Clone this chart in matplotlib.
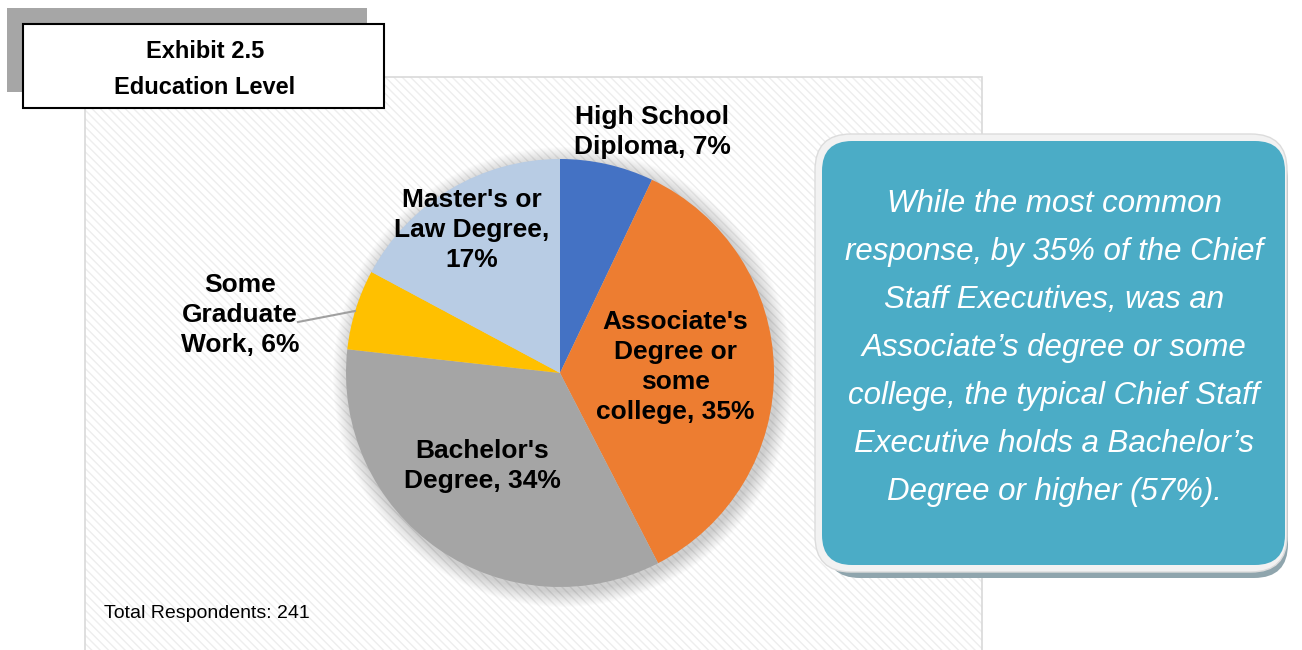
import matplotlib.pyplot as plt
from matplotlib.patches import Rectangle, FancyBboxPatch, Circle

plt.rcParams['font.family'] = ['Liberation Sans', 'DejaVu Sans']
plt.rcParams['hatch.linewidth'] = 1.0

# Education level shares (percent of respondents)
categories = ["High School\nDiploma", "Associate's\nDegree or\nsome\ncollege",
              "Bachelor's\nDegree", "Some\nGraduate\nWork", "Master's or\nLaw Degree,\n"]
shares = [7, 35, 34, 6, 17]
colors = ['#4472C4', '#ED7D31', '#A5A5A5', '#FFC000', '#B8CCE4']
total_respondents = 241
title_lines = ["Exhibit 2.5", "Education Level"]
callout = ("While the most common\nresponse, by 35% of the Chief\n"
           "Staff Executives, was an\nAssociate\u2019s degree or some\n"
           "college, the typical Chief Staff\nExecutive holds a Bachelor\u2019s\n"
           "Degree or higher (57%).")

W, H = 1302, 650
fig = plt.figure(figsize=(W / 100, H / 100), dpi=100)
ax = fig.add_axes([0, 0, 1, 1])


def Y(py):
    # pixel row (from top) -> data y
    return H - py


# hatched chart panel
panel = Rectangle((85, Y(660)), 897, 583, facecolor='white', edgecolor='#eeeeee',
                  hatch='\\\\\\\\', linewidth=0, zorder=0)
ax.add_patch(panel)
ax.add_patch(Rectangle((85, Y(660)), 897, 583, fill=False, edgecolor='#d9d9d9',
                       linewidth=1.2, zorder=0.5))

# title box with grey offset block
ax.add_patch(Rectangle((7, Y(92)), 360, 84, facecolor='#a6a6a6', edgecolor='none', zorder=1))
ax.add_patch(Rectangle((23, Y(108)), 361, 84, facecolor='white', edgecolor='black',
                       linewidth=1.5, zorder=2))
ax.text(205, Y(51), title_lines[0], ha='center', va='center', fontsize=17,
        fontweight='bold', zorder=3)
ax.text(205, Y(87), title_lines[1], ha='center', va='center', fontsize=17,
        fontweight='bold', zorder=3)

# pie with soft shadow
cx, cy, r = 560, Y(373), 214
for k in range(16, 0, -1):
    ax.add_patch(Circle((cx + 3, cy - 4), r + k, facecolor='#000000', alpha=0.013,
                        edgecolor='none', zorder=1))
wedges, _ = ax.pie(shares, colors=colors, startangle=90, counterclock=False,
                   center=(cx, cy), radius=r, wedgeprops=dict(linewidth=0),
                   frame=True)
for w in wedges:
    w.set_zorder(2)
ax.set_xlim(0, W)
ax.set_ylim(0, H)
ax.set_aspect('equal')
ax.axis('off')

lbl = dict(ha='center', va='center', fontsize=19, fontweight='bold', zorder=4,
           linespacing=1.3)
ax.text(652, Y(132), f"{categories[0]}, {shares[0]}%", **lbl)
ax.text(675, Y(367), f"{categories[1]}, {shares[1]}%", **lbl)
ax.text(482, Y(466), f"{categories[2]}, {shares[2]}%", **lbl)
ax.text(240, Y(315), f"{categories[3]}, {shares[3]}%", **lbl)
ax.text(472, Y(230), f"{categories[4]}{shares[4]}%", **lbl)
ax.plot([298, 355], [Y(322), Y(311)], color='#a0a0a0', linewidth=1.5, zorder=3)

ax.text(104, Y(614), f"Total Respondents: {total_respondents}", ha='left', va='center',
        fontsize=14, zorder=4)

# callout box
ax.add_patch(FancyBboxPatch((826, Y(578)), 462, 432,
                            boxstyle='round,pad=0,rounding_size=34',
                            facecolor='#8fa5ad', edgecolor='none', zorder=3))
ax.add_patch(FancyBboxPatch((815, Y(572)), 472, 438,
                            boxstyle='round,pad=0,rounding_size=36',
                            facecolor='#f2f2f2', edgecolor='#dcdcdc', linewidth=1, zorder=4))
ax.add_patch(FancyBboxPatch((822, Y(565)), 463, 424,
                            boxstyle='round,pad=0,rounding_size=30',
                            facecolor='#4BACC6', edgecolor='none', zorder=5))
ax.text(1054, Y(348), callout, ha='center', va='center', fontsize=22.5,
        fontstyle='italic', color='white', linespacing=1.78, zorder=6,
        family=['Liberation Sans Narrow', 'Liberation Sans', 'DejaVu Sans'])

fig.savefig('out.png', dpi=100)
